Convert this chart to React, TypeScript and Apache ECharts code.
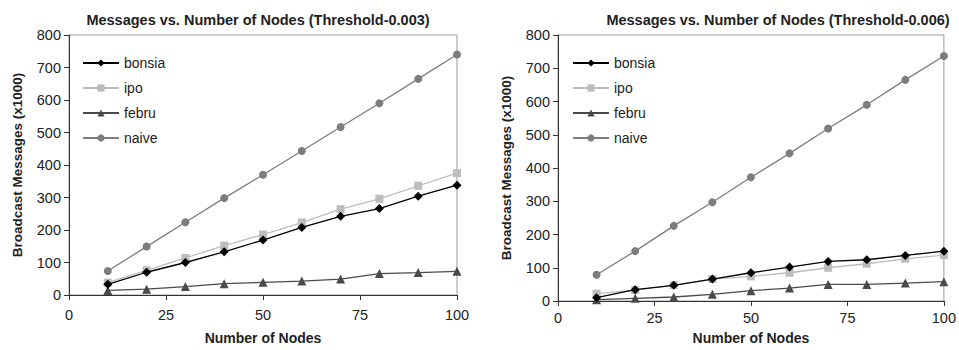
import React, { useEffect, useRef } from "react";
import * as echarts from "echarts";

const nodes = [10, 20, 30, 40, 50, 60, 70, 80, 90, 100];

// Threshold-0.003
const bonsiaA = [33, 70, 100, 133, 169, 208, 242, 266, 304, 338];
const ipoA = [38, 76, 114, 152, 186, 223, 264, 296, 336, 375];
const februA = [14, 18, 26, 35, 39, 43, 49, 66, 69, 73];
const naiveA = [74, 149, 224, 298, 370, 443, 517, 590, 665, 740];

// Threshold-0.006
const bonsiaB = [10, 34, 47, 66, 85, 102, 119, 124, 137, 150];
const ipoB = [22, 33, 48, 66, 74, 85, 100, 112, 127, 138];
const februB = [4, 8, 12, 20, 31, 39, 50, 50, 54, 58];
const naiveB = [79, 150, 226, 297, 372, 444, 519, 590, 665, 737];

const titles = [
  "Messages vs. Number of Nodes (Threshold-0.003)",
  "Messages vs. Number of Nodes (Threshold-0.006)",
];
const seriesNames = ["bonsia", "ipo", "febru", "naive"];
const xTitle = "Number of Nodes";
const yTitle = "Broadcast Messages (x1000)";

const FONT = "Liberation Sans, Arial, Helvetica, sans-serif";
const colors = ["#000000", "#bdbdbd", "#4a4a4a", "#7d7d7d"];
const symbols = ["diamond", "rect", "triangle", "circle"];
const symbolSizes = [9, 8, 9, 8];

export default function App() {
  const ref = useRef<HTMLDivElement>(null);
  useEffect(() => {
    if (!ref.current) return;
    const chart = echarts.init(ref.current, undefined, { renderer: "svg" });
    const grids = [
      { left: 69, right: 502, top: 35, bottom: 52 },
      { left: 558, right: 15, top: 35, bottom: 48 },
    ];
    const xLabelMargin = [12, 9];
    const xNameGap = [36, 30];
    const data = [
      [bonsiaA, ipoA, februA, naiveA],
      [bonsiaB, ipoB, februB, naiveB],
    ];
    const series: any[] = [];
    data.forEach((set, g) => {
      set.forEach((vals, i) => {
        series.push({
          type: "line",
          name: seriesNames[i],
          xAxisIndex: g,
          yAxisIndex: g,
          data: nodes.map((n, k) => [n, vals[k]]),
          symbol: symbols[i],
          symbolSize: symbolSizes[i],
          lineStyle: { color: colors[i], width: 1.3 },
          itemStyle: { color: colors[i] },
          z: 10 - i,
        });
      });
    });
    const axisText = { fontFamily: FONT, fontSize: 14.5, color: "#222" };
    const titleStyle = { fontFamily: FONT, fontSize: 14.5, fontWeight: "bold", color: "#222" };
    chart.setOption({
      animation: false,
      title: [
        { text: titles[0], left: 253, top: 7, textAlign: "center", textStyle: titleStyle },
        { text: titles[1], left: 773, top: 7, textAlign: "center", textStyle: titleStyle },
      ],
      legend: [0, 1].map((g) => ({
        orient: "vertical",
        left: g === 0 ? 77 : 567,
        top: 51,
        itemWidth: 36,
        itemHeight: 9,
        itemGap: 11,
        data: seriesNames.map((n) => ({ name: n })),
        textStyle: { fontFamily: FONT, fontSize: 14, color: "#222" },
        selectedMode: false,
      })),
      grid: grids.map((gr) => ({
        ...gr,
        show: true,
        borderColor: "#9a9a9a",
        borderWidth: 1,
      })),
      xAxis: [0, 1].map((g) => ({
        type: "value",
        gridIndex: g,
        min: 0,
        max: 100,
        interval: 25,
        name: xTitle,
        nameLocation: "middle",
        nameGap: xNameGap[g],
        nameTextStyle: { fontFamily: FONT, fontSize: 14, fontWeight: "bold", color: "#222" },
        axisLine: { show: true, lineStyle: { color: "#333", width: 1 } },
        axisTick: { show: true, length: 5, inside: false, lineStyle: { color: "#333" } },
        axisLabel: { ...axisText, margin: xLabelMargin[g] },
        splitLine: { show: false },
      })),
      yAxis: [0, 1].map((g) => ({
        type: "value",
        gridIndex: g,
        min: 0,
        max: 800,
        interval: 100,
        name: yTitle,
        nameLocation: "middle",
        nameGap: 45,
        nameTextStyle: { fontFamily: FONT, fontSize: 13.5, fontWeight: "bold", color: "#222" },
        axisLine: { show: true, lineStyle: { color: "#333", width: 1 } },
        axisTick: { show: true, length: 5, inside: false, lineStyle: { color: "#333" } },
        axisLabel: { ...axisText, margin: 8 },
        splitLine: { show: false },
      })),
      series,
    });
    return () => chart.dispose();
  }, []);
  return (
    <div
      ref={ref}
      style={{ position: "fixed", left: 0, top: 0, width: 959, height: 350, background: "#fff" }}
    />
  );
}
